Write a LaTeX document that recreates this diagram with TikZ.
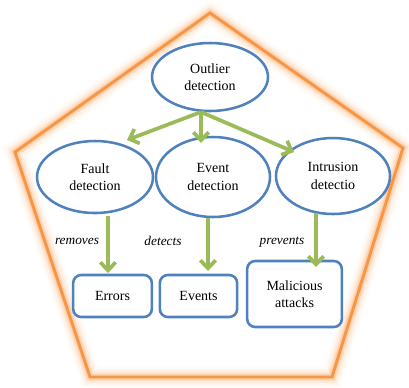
\documentclass[tikz,border=0pt]{standalone}
\usepackage{fontspec}
\setmainfont{Liberation Serif}
\newfontfamily\labelfont{Liberation Serif}
\usetikzlibrary{shapes.geometric,arrows.meta}
\definecolor{frameorange}{RGB}{247,150,70}
\definecolor{glowdorange}{RGB}{250,180,120}
\definecolor{nodeblue}{RGB}{79,129,189}
\definecolor{arrowgreen}{RGB}{155,187,89}
\tikzset{
  blob/.style={ellipse, draw=nodeblue, line width=1.9pt, fill=white, inner sep=0pt,
    align=center, font=\labelfont\fontsize{10.5}{13}\selectfont},
  resultbox/.style={rectangle, rounded corners=6pt, draw=nodeblue, line width=1.9pt,
    fill=white, inner sep=0pt, align=center, font=\labelfont\fontsize{10.5}{13}\selectfont},
  flow/.style={draw=arrowgreen, line width=2.8pt,
    -{Straight Barb[length=6pt,width=11.5pt,line width=2.8pt]}},
  verb/.style={font=\labelfont\itshape\fontsize{10}{12}\selectfont, inner sep=0pt},
}
\begin{document}
\begin{tikzpicture}[x=0.75pt,y=-0.75pt]
\useasboundingbox (0,0) rectangle (409,387);
% pentagon frame with a soft glow
\def\pent{(210,13) -- (403,148) -- (332,377) -- (90,377) -- (15,152) -- cycle}
\foreach \w/\o in {16/0.06,12/0.09,9/0.13,6.5/0.2,4.5/0.35}{
  \draw[glowdorange, line width=\w pt, opacity=\o, line join=miter] \pent;
}
\draw[frameorange, line width=2.2pt, line join=miter] \pent;

% detection ellipses
\node[blob, minimum width=87pt, minimum height=51pt] (outlier) at (210,77) {Outlier\\detection};
\node[blob, minimum width=87pt, minimum height=54pt] (fault) at (95,177) {Fault\\detection};
\node[blob, minimum width=85.5pt, minimum height=60pt] (event) at (213,177) {Event\\detection};
\node[blob, minimum width=85.5pt, minimum height=57pt] (intrusion) at (333,176) {Intrusion\\detectio};

% outcome boxes
\node[resultbox, minimum width=59pt, minimum height=31.5pt] (errors) at (112.5,296) {Errors};
\node[resultbox, minimum width=58pt, minimum height=31.5pt] (events) at (198.5,296) {Events};
\node[resultbox, minimum width=71pt, minimum height=49.5pt] (malicious) at (294.5,294) {Malicious\\attacks};

% arrow end points
\coordinate (hub) at (201,112);
\coordinate (tipfault) at (127,140);
\coordinate (tipevent) at (201,143);
\coordinate (tipintr) at (294,152);
\coordinate (fromfault) at (108,216);
\coordinate (toerrors) at (108,273);
\coordinate (fromevent) at (208,218);
\coordinate (toevents) at (208,271);
\coordinate (fromintr) at (316,213);
\coordinate (tomal) at (316,267);

\draw[flow] (hub) -- (tipfault);
\draw[flow] (hub) -- (tipevent);
\draw[flow] (hub) -- (tipintr);
\draw[flow] (fromfault) -- (toerrors);
\draw[flow] (fromevent) -- (toevents);
\draw[flow] (fromintr) -- (tomal);

% relation labels
\node[verb] (lremoves) at (77,241) {removes};
\node[verb] (ldetects) at (163,241) {detects};
\node[verb] (lprevents) at (282,242) {prevents};
\end{tikzpicture}
\end{document}
